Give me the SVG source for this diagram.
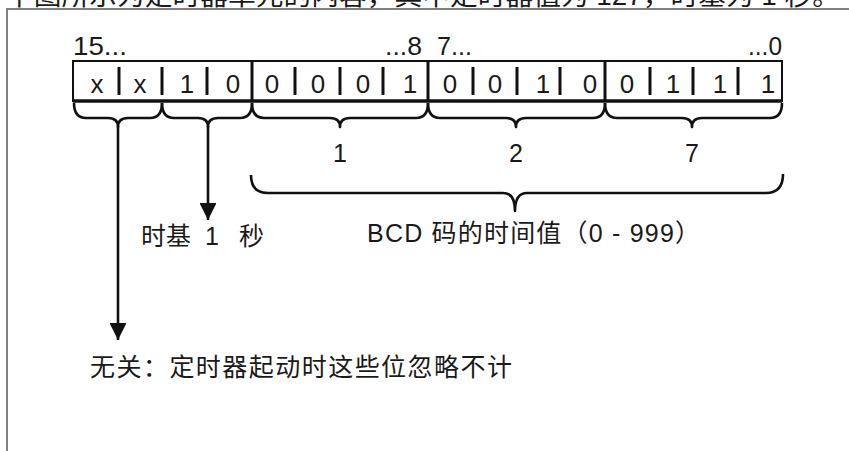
<svg xmlns="http://www.w3.org/2000/svg" width="849" height="451" viewBox="0 0 849 451">
<style>
.t{font-family:"Liberation Sans","Noto Sans CJK SC",sans-serif;fill:#1a1a1a}
.cell{font-size:26px;text-anchor:middle}
.lbl{font-size:25px}
.cjk{font-family:"Liberation Sans","Noto Sans CJK SC",sans-serif;fill:#1a1a1a;font-size:25px}
.brace{fill:none;stroke:#111;stroke-width:2.6;stroke-linejoin:round}
.div{stroke:#111;stroke-width:3}
.conn{stroke:#111;stroke-width:2.6;fill:none}
</style>
<defs>
<marker id="ah" viewBox="0 0 10 10" refX="10" refY="5" markerWidth="6.5" markerHeight="6.5" orient="auto" markerUnits="strokeWidth">
<path d="M0,0 L10,5 L0,10 z" fill="#111"/>
</marker>
</defs>
<rect width="849" height="451" fill="#fff"/>
<text class="cjk" x="6" y="5" font-size="24" textLength="834" lengthAdjust="spacingAndGlyphs">下图所示为定时器单元的内容，其中定时器值为 127，时基为 1 秒。</text>
<path d="M7,451 V9 H849" fill="none" stroke="#808080" stroke-width="2"/>
<g id="register">
<rect x="73" y="61" width="709" height="40" fill="none" stroke="#111" stroke-width="2"/>
<line x1="73" y1="101" x2="782" y2="101" stroke="#111" stroke-width="3.5"/>
<line class="div" x1="252" y1="61" x2="252" y2="101" stroke-width="2.5"/>
<line class="div" x1="428" y1="61" x2="428" y2="101" stroke-width="2.5"/>
<line class="div" x1="605" y1="61" x2="605" y2="101" stroke-width="2.5"/>
<g>
<line class="div" x1="119" y1="67" x2="119" y2="95"/>
<line class="div" x1="162" y1="67" x2="162" y2="95"/>
<line class="div" x1="207" y1="67" x2="207" y2="95"/>
<line class="div" x1="295" y1="67" x2="295" y2="95"/>
<line class="div" x1="340" y1="67" x2="340" y2="95"/>
<line class="div" x1="383" y1="67" x2="383" y2="95"/>
<line class="div" x1="473" y1="67" x2="473" y2="95"/>
<line class="div" x1="517" y1="67" x2="517" y2="95"/>
<line class="div" x1="560" y1="67" x2="560" y2="95"/>
<line class="div" x1="650" y1="67" x2="650" y2="95"/>
<line class="div" x1="693" y1="67" x2="693" y2="95"/>
<line class="div" x1="738" y1="67" x2="738" y2="95"/>
</g>
<g class="t cell">
<text x="97" y="93">x</text>
<text x="140" y="93">x</text>
<text x="187" y="93">1</text>
<text x="233" y="93">0</text>
<text x="272" y="93">0</text>
<text x="318" y="93">0</text>
<text x="363" y="93">0</text>
<text x="410" y="93">1</text>
<text x="450" y="93">0</text>
<text x="495" y="93">0</text>
<text x="543" y="93">1</text>
<text x="590" y="93">0</text>
<text x="627" y="93">0</text>
<text x="673" y="93">1</text>
<text x="720" y="93">1</text>
<text x="768" y="93">1</text>
</g>
</g>
<g id="bit-labels" class="t lbl">
<text x="73" y="55" textLength="54" lengthAdjust="spacingAndGlyphs">15...</text>
<text x="385" y="55" textLength="37" lengthAdjust="spacingAndGlyphs">...8</text>
<text x="437" y="55" textLength="35" lengthAdjust="spacingAndGlyphs">7...</text>
<text x="748" y="55" textLength="34" lengthAdjust="spacingAndGlyphs">...0</text>
</g>
<g id="braces">
<path class="brace" d="M74,103 Q74,118 86,118 H108 Q118,118 118,127 Q118,118 128,118 H150 Q162,118 162,103"/>
<path class="brace" d="M162,103 Q162,118 174,118 H198 Q208,118 208,127 Q208,118 218,118 H240 Q252,118 252,103"/>
<path class="brace" d="M252,103 Q252,118 264,118 H330 Q340,118 340,127 Q340,118 350,118 H416 Q428,118 428,103"/>
<path class="brace" d="M428,103 Q428,118 440,118 H506 Q516,118 516,127 Q516,118 526,118 H593 Q605,118 605,103"/>
<path class="brace" d="M605,103 Q605,118 617,118 H682 Q692,118 692,127 Q692,118 702,118 H770 Q782,118 782,103"/>
<path class="brace" d="M251,175 Q251,193 268,193 H503 Q515,193 515,211 Q515,193 527,193 H766 Q783,193 783,174"/>
</g>
<g id="digit-labels" class="t lbl" text-anchor="middle">
<text x="340" y="162">1</text>
<text x="516" y="162">2</text>
<text x="692" y="162">7</text>
</g>
<g id="connectors">
<line class="conn" x1="118" y1="126" x2="118" y2="340" marker-end="url(#ah)"/>
<line class="conn" x1="208" y1="126" x2="208" y2="220" marker-end="url(#ah)"/>
</g>
<g id="timebase">
<text class="cjk" y="245"><tspan x="141">时基</tspan><tspan x="205">1</tspan><tspan x="239">秒</tspan></text>
</g>
<g id="bcd">
<text class="cjk" x="367" y="242" font-size="26" textLength="333" lengthAdjust="spacing" xml:space="preserve">BCD 码的时间值（0 - 999）</text>
</g>
<g id="dontcare">
<text class="cjk" x="90" y="376" font-size="26" textLength="422" lengthAdjust="spacing">无关：定时器起动时这些位忽略不计</text>
</g>
</svg>
